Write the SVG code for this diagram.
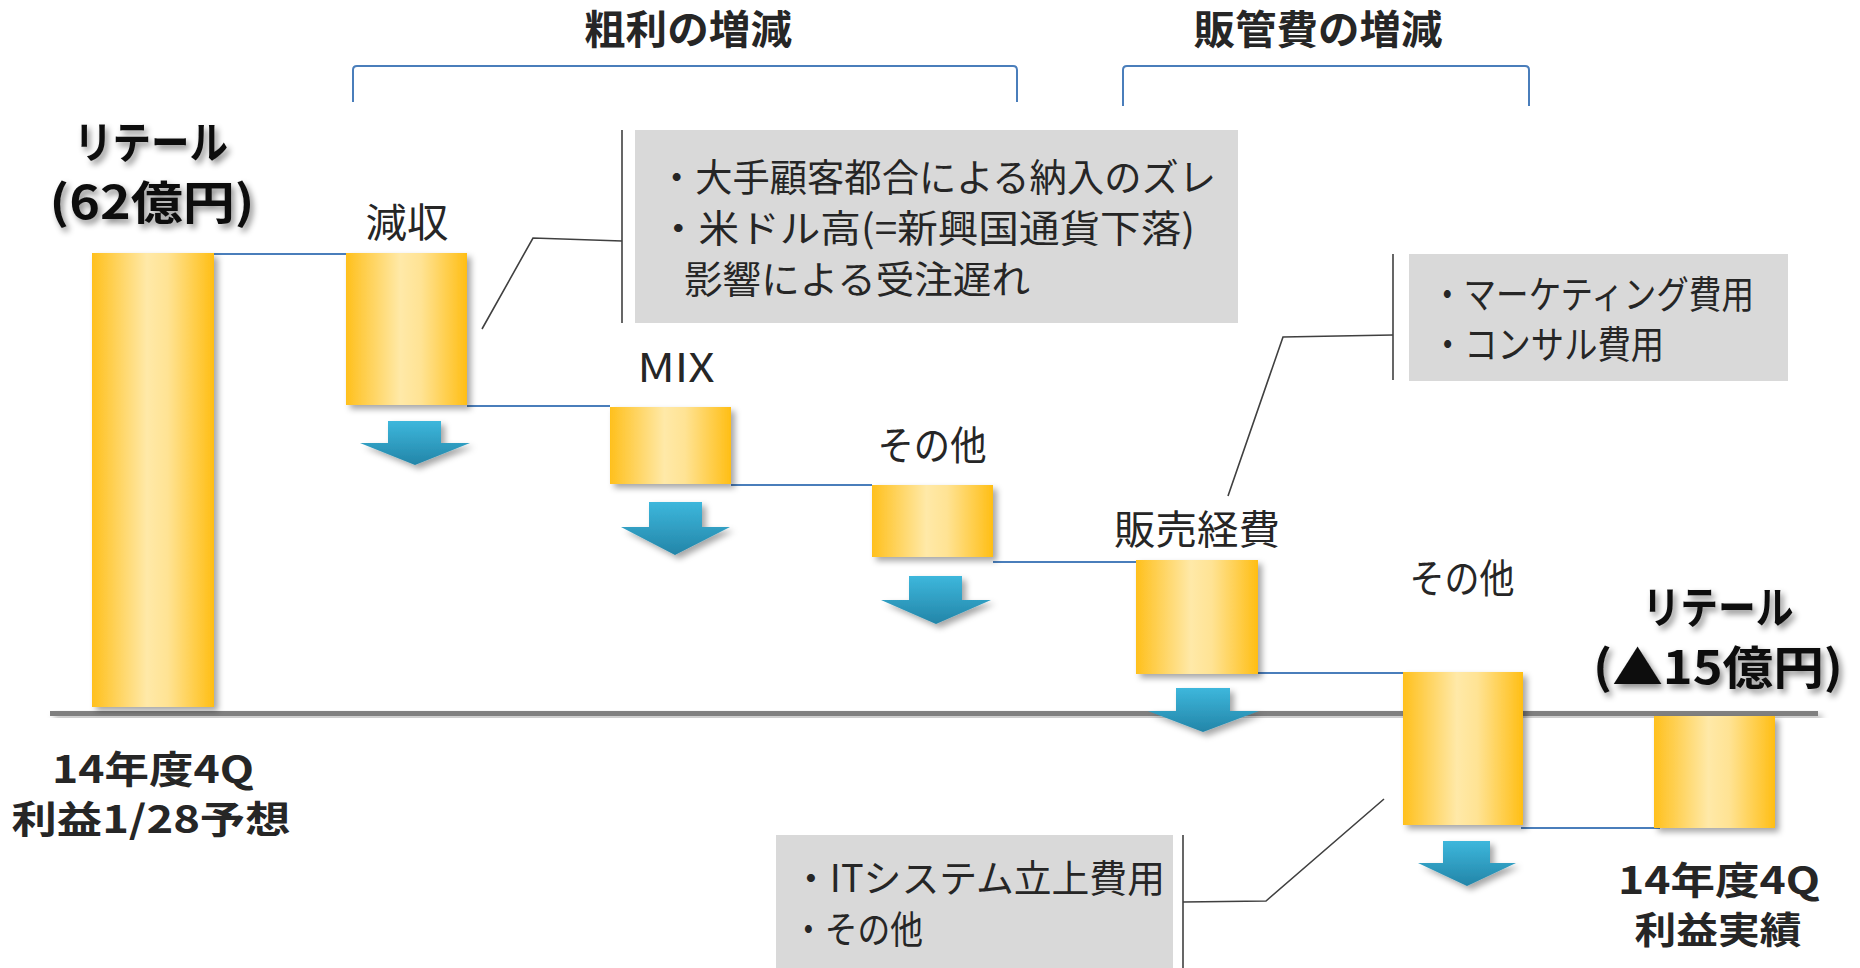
<svg xmlns="http://www.w3.org/2000/svg" width="1860" height="968" viewBox="0 0 1860 968">
<defs>
<linearGradient id="barG" x1="0" y1="0" x2="1" y2="0">
<stop offset="0" stop-color="#FFC01C"/>
<stop offset="0.45" stop-color="#FFE9A8"/>
<stop offset="0.62" stop-color="#FFE394"/>
<stop offset="1" stop-color="#FFBE14"/>
</linearGradient>
<linearGradient id="arrG" x1="0" y1="0" x2="0" y2="1">
<stop offset="0" stop-color="#3DB7DC"/>
<stop offset="1" stop-color="#2385A8"/>
</linearGradient>
<filter id="sh" x="-20%" y="-20%" width="150%" height="150%">
<feDropShadow dx="4" dy="4" stdDeviation="3" flood-color="#000" flood-opacity="0.35"/>
</filter>
<filter id="tsh" x="-20%" y="-20%" width="150%" height="160%">
<feDropShadow dx="3" dy="4" stdDeviation="3" flood-color="#000" flood-opacity="0.45"/>
</filter>
<style>
.bar{fill:url(#barG);filter:url(#sh);}
.arr{fill:url(#arrG);filter:url(#sh);}
.lbl{font-family:'Noto Sans CJK JP','Noto Sans',sans-serif;font-size:40px;fill:#262626;text-anchor:middle;}
.bold{font-family:'Noto Sans CJK JP','Noto Sans',sans-serif;font-weight:700;fill:#262626;text-anchor:middle;}
.big{font-family:'Noto Sans CJK JP','Noto Sans',sans-serif;font-weight:700;fill:#111;text-anchor:middle;filter:url(#tsh);}
.note{font-family:'Noto Sans CJK JP','Noto Sans',sans-serif;font-size:38px;fill:#262626;}
.box{fill:#D9D9D9;}
.lead{fill:none;stroke:#404040;stroke-width:1.6;}
.conn{stroke:#4A7EBB;stroke-width:2;fill:none;}
</style>
</defs>
<rect width="1860" height="968" fill="#fff"/>

<g id="headers">
<path class="conn" d="M353,102 L353,70 Q353,66 357,66 L1013,66 Q1017,66 1017,70 L1017,102"/>
<path class="conn" d="M1123,106 L1123,70 Q1123,66 1127,66 L1525,66 Q1529,66 1529,70 L1529,106"/>
<text class="bold" x="688" y="44" font-size="40" textLength="208" lengthAdjust="spacingAndGlyphs">粗利の増減</text>
<text class="bold" x="1318" y="44" font-size="40" textLength="249" lengthAdjust="spacingAndGlyphs">販管費の増減</text>
</g>

<g id="axis">
<rect x="50" y="711" width="1768" height="5" fill="#808080" filter="url(#sh)"/>
</g>

<g id="connectors">
<line class="conn" x1="213" y1="254" x2="353" y2="254"/>
<line class="conn" x1="467" y1="406" x2="610" y2="406"/>
<line class="conn" x1="731" y1="485" x2="872" y2="485"/>
<line class="conn" x1="993" y1="562" x2="1136" y2="562"/>
<line class="conn" x1="1258" y1="673" x2="1403" y2="673"/>
<line class="conn" x1="1521" y1="828" x2="1660" y2="828"/>
</g>

<g id="node-start">
<rect class="bar" x="92" y="253" width="122" height="454"/>
<text class="big" x="151" y="159" font-size="44" textLength="154" lengthAdjust="spacingAndGlyphs">リテール</text>
<text class="big" x="152" y="219" font-size="46" textLength="205" lengthAdjust="spacingAndGlyphs">(62億円)</text>
<text class="bold" x="153" y="783" font-size="38" textLength="202" lengthAdjust="spacingAndGlyphs">14年度4Q</text>
<text class="bold" x="151" y="833" font-size="38" textLength="279" lengthAdjust="spacingAndGlyphs">利益1/28予想</text>
</g>

<g id="node-genshu">
<rect class="bar" x="346" y="253" width="121" height="152"/>
<text class="lbl" x="407" y="237" textLength="83" lengthAdjust="spacingAndGlyphs">減収</text>
<polygon class="arr" points="388,421 441,421 441,443 470,443 415,465 360,443 388,443"/>
</g>

<g id="node-mix">
<rect class="bar" x="610" y="407" width="121" height="77"/>
<text class="lbl" x="676" y="382" textLength="77" lengthAdjust="spacingAndGlyphs">MIX</text>
<polygon class="arr" points="649,502 702,502 702,527 730,527 675,555 621,527 649,527"/>
</g>

<g id="node-sonota1">
<rect class="bar" x="872" y="485" width="121" height="72"/>
<text class="lbl" x="932" y="460" textLength="109" lengthAdjust="spacingAndGlyphs">その他</text>
<polygon class="arr" points="909,576 962,576 962,600 991,600 936,624 881,600 909,600"/>
</g>

<g id="node-hanbai">
<rect class="bar" x="1136" y="560" width="122" height="114"/>
<text class="lbl" x="1197" y="544" textLength="166" lengthAdjust="spacingAndGlyphs">販売経費</text>
<polygon class="arr" points="1176,688 1230,688 1230,711 1259,711 1203,732 1148,711 1176,711"/>
</g>

<g id="node-sonota2">
<rect class="bar" x="1403" y="672" width="120" height="153"/>
<text class="lbl" x="1462" y="593" textLength="105" lengthAdjust="spacingAndGlyphs">その他</text>
<polygon class="arr" points="1443,841 1490,841 1490,863 1516,863 1467,886 1418,863 1443,863"/>
</g>

<g id="node-end">
<rect class="bar" x="1654" y="716" width="121" height="112"/>
<text class="big" x="1718" y="624" font-size="44" textLength="151" lengthAdjust="spacingAndGlyphs">リテール</text>
<text class="big" x="1718" y="684" font-size="46" textLength="250" lengthAdjust="spacingAndGlyphs">(▲15億円)</text>
<text class="bold" x="1719" y="894" font-size="38" textLength="202" lengthAdjust="spacingAndGlyphs">14年度4Q</text>
<text class="bold" x="1718" y="944" font-size="37" textLength="167" lengthAdjust="spacingAndGlyphs">利益実績</text>
</g>

<g id="callout-1">
<rect class="box" x="635" y="130" width="603" height="193"/>
<line class="lead" x1="622" y1="130" x2="622" y2="323"/>
<polyline class="lead" points="482,329 533,238 622,241"/>
<text class="note" x="658" y="191" textLength="558" lengthAdjust="spacingAndGlyphs">・大手顧客都合による納入のズレ</text>
<text class="note" x="658" y="242" textLength="537" lengthAdjust="spacingAndGlyphs">・米ドル高(=新興国通貨下落)</text>
<text class="note" x="684" y="293" textLength="346" lengthAdjust="spacingAndGlyphs">影響による受注遅れ</text>
</g>

<g id="callout-2">
<rect class="box" x="1409" y="254" width="379" height="127"/>
<line class="lead" x1="1393" y1="254" x2="1393" y2="380"/>
<polyline class="lead" points="1228,496 1283,337 1393,335"/>
<text class="note" x="1431" y="308" textLength="323" lengthAdjust="spacingAndGlyphs">・マーケティング費用</text>
<text class="note" x="1431" y="358" textLength="233" lengthAdjust="spacingAndGlyphs">・コンサル費用</text>
</g>

<g id="callout-3">
<rect class="box" x="776" y="835" width="397" height="133"/>
<line class="lead" x1="1183" y1="835" x2="1183" y2="968"/>
<polyline class="lead" points="1384,799 1266,901 1183,902"/>
<text class="note" x="792" y="892" textLength="373" lengthAdjust="spacingAndGlyphs">・ITシステム立上費用</text>
<text class="note" x="792" y="943" textLength="131" lengthAdjust="spacingAndGlyphs">・その他</text>
</g>
</svg>
